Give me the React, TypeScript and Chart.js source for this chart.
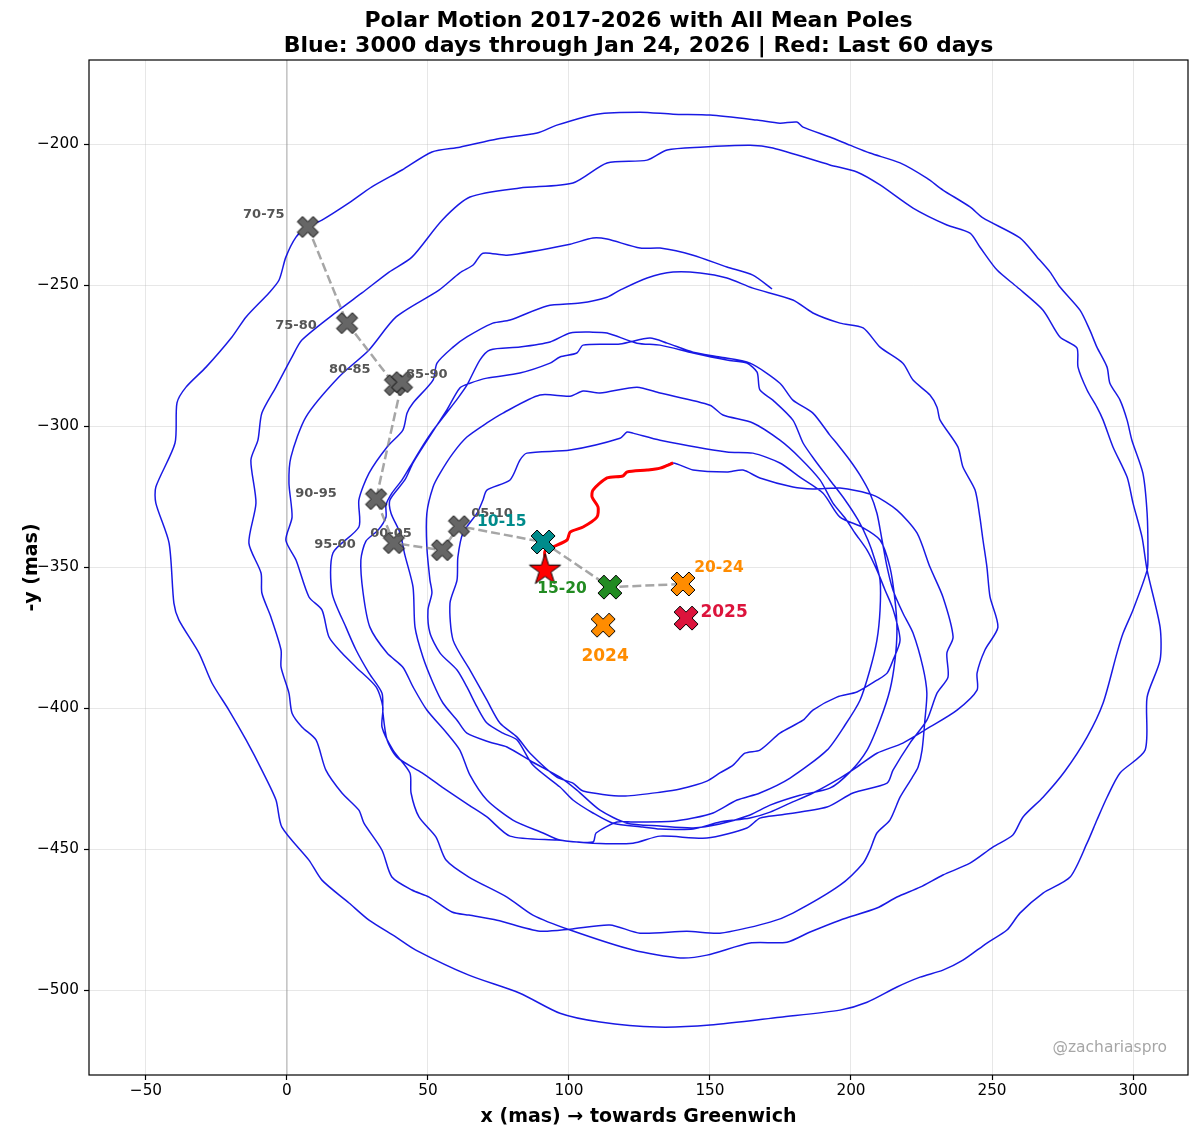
import React, { useEffect, useRef } from 'react';
import { Chart, registerables } from 'chart.js';

Chart.register(...registerables);

// ---------- data (mas) ----------
const blueX = [
172.0,165.2,156.0,144.0,132.3,125.2,113.5,108.5,100.4,78.0,
69.5,66.0,61.3,53.9,38.7,29.1,18.4,6.7,1.4,0.7,
1.8,-0.4,3.2,7.8,12.4,14.9,19.5,24.5,31.6,34.0,
33.7,37.6,43.6,44.0,46.8,52.8,56.4,64.5,78.0,87.2,
100.4,122.7,139.4,148.9,164.2,177.3,185.5,196.1,209.2,216.3,
224.5,232.6,242.2,250.3,257.4,261.0,268.1,275.9,283.7,289.4,
294.3,296.5,300.0,305.0,305.3,305.0,303.5,299.6,297.9,295.4,
291.8,290.8,287.2,284.7,281.2,274.1,270.6,266.0,259.9,246.8,
242.2,232.6,226.9,217.4,206.7,199.6,192.5,183.0,180.8,174.8,
166.7,150.0,136.9,125.2,109.9,95.7,88.7,74.5,61.3,51.4,
40.8,30.1,22.0,12.4,7.1,3.2,-0.4,-2.8,-6.4,-14.5,
-19.5,-28.7,-35.8,-39.0,-39.7,-46.5,-46.5,-41.8,-40.1,-38.3,
-31.2,-26.6,-20.6,-14.5,-8.9,-3.9,-1.8,7.8,12.4,22.0,
29.1,38.7,45.7,64.5,82.6,96.8,111.0,131.2,150.0,174.8,
196.1,205.7,216.3,224.5,232.6,239.7,248.2,255.3,259.9,268.1,
277.7,283.7,287.2,290.8,295.4,304.3,305.0,309.6,309.6,305.0,
303.2,300.0,297.9,292.9,289.4,287.2,283.7,280.5,280.1,274.1,
268.1,258.9,251.8,245.7,242.2,234.0,222.0,210.3,202.1,192.5,
172.3,164.2,146.5,134.8,127.7,113.5,101.4,82.6,64.9,55.0,
44.3,36.2,26.6,18.4,5.3,1.8,-3.9,-8.9,-10.3,-12.8,
-11.0,-13.5,-9.2,-8.9,-5.7,-2.1,-2.1,0.7,1.8,5.3,
10.3,13.8,19.5,25.5,27.3,33.7,37.2,44.3,50.4,58.5,
64.5,74.5,89.7,100.4,114.5,125.2,141.8,153.5,171.3,179.4,
196.1,204.3,206.7,209.2,213.8,217.4,221.6,223.8,225.2,226.2,
226.9,225.5,222.0,218.4,214.9,212.8,211.0,209.2,206.7,203.2,
199.6,195.4,192.5,186.5,179.4,174.8,164.2,153.5,144.0,134.8,
128.7,118.1,105.0,102.8,96.8,93.3,82.6,70.9,64.9,61.3,
56.7,52.5,48.2,44.7,41.8,36.5,36.9,40.1,41.8,44.7,
45.4,48.2,51.8,55.3,60.3,63.8,72.0,78.0,87.2,96.8,
102.8,111.0,120.6,132.3,144.0,153.5,164.2,171.3,181.9,192.5,
199.6,205.7,210.3,213.8,215.6,216.3,215.6,213.8,210.3,203.9,
196.1,190.1,181.9,174.8,165.2,156.0,132.3,122.7,120.6,118.1,
100.4,85.1,82.6,79.1,70.9,69.5,67.4,62.4,60.6,60.3,
57.8,58.9,64.9,70.9,75.5,81.6,86.2,95.7,101.4,105.0,
119.1,132.3,139.4,148.9,153.5,158.2,162.4,167.7,174.8,183.0,
186.5,195.0,202.1,209.2,212.8,214.9,217.4,214.9,212.1,209.2,
205.7,201.4,197.9,193.6,189.0,181.9,174.8,165.2,154.6,150.0,
132.3,124.1,111.0,105.0,100.4,89.7,76.6,70.9,63.8,58.9,
54.3,51.8,49.6,49.6,50.7,51.4,50.0,50.7,54.3,60.3,
63.8,67.4,70.9,76.6,81.6,87.2,96.8,101.4,108.5,115.6,
126.2,132.3,144.0,153.5,164.2,171.3,178.4,186.5,196.1,202.1,
209.2,218.4,228.0,237.6,244.7,244.7,247.5,252.1,249.3,248.2,
246.8,245.7,244.0,239.7,237.9,231.6,230.5,228.0,222.0,218.4,
210.3,204.3,196.1,186.5,179.4,165.2,156.0,146.5,136.9,127.7,
118.1,113.5,103.9,92.2,79.1,73.0,63.8,58.9,53.2,51.8,
44.7,42.6,41.1,35.5,29.1,25.5,25.5,16.3,16.0,20.9,
24.5,29.1,33.7,34.0,35.5,39.0,47.9,55.0,64.5,70.9,
79.1,95.7,108.5,109.6,117.0,122.7,136.9,144.0,151.1,159.6,
167.7,178.4,191.5,197.9,203.2,206.7,209.2,210.3,210.3,208.5,
206.0,202.5,197.9,192.5,187.2,183.0,179.4,172.3,167.7,166.7,
163.1,156.0,144.0,132.3,124.1,113.5,108.5,100.4,93.3,82.6,
72.0,68.4,63.8,60.6,56.0,51.4,47.2,43.6,40.8,37.2,
35.1,35.1,32.3,28.0,26.2,27.0,29.4,35.5,41.1,44.7,
49.6,56.7,61.3,64.9,70.9,80.1,90.8,96.8,108.5,122.7,
132.3,148.9,163.1,167.7,174.8,191.5,200.7,212.8,214.9,220.9,
226.9,230.5,234.4,234.0,236.2,232.6,228.0,223.4,216.3,207.8,
196.1,186.5,179.4,167.7,161.7,156.0,144.0,136.9
];
const blueY = [
-251.4,-246.5,-243.6,-239.4,-236.9,-236.9,-233.7,-233.3,-235.5,-239.4,
-238.7,-242.9,-245.7,-251.8,-261.3,-273.0,-282.6,-296.8,-311.0,-320.2,
-332.3,-340.4,-347.5,-360.6,-365.2,-374.8,-380.5,-385.5,-392.5,-399.6,
-406.7,-414.9,-423.0,-430.1,-438.6,-445.7,-453.9,-459.9,-467.0,-473.4,
-478.7,-485.8,-488.6,-487.6,-483.3,-483.0,-479.4,-475.2,-470.9,-467.0,
-463.5,-459.2,-455.0,-449.3,-445.0,-438.6,-431.6,-422.3,-410.3,-398.2,
-380.5,-373.4,-365.2,-351.1,-345.0,-330.9,-316.7,-305.0,-297.9,-290.8,
-284.8,-279.1,-272.0,-266.0,-258.9,-250.7,-245.4,-240.1,-233.3,-226.2,
-222.3,-216.3,-212.1,-206.7,-203.2,-200.4,-197.5,-194.0,-192.2,-192.6,
-191.5,-189.7,-189.4,-188.7,-189.4,-193.3,-196.1,-198.2,-201.1,-202.8,
-209.2,-215.2,-220.9,-227.0,-229.4,-233.0,-240.1,-248.2,-252.8,-261.3,
-268.4,-279.1,-286.2,-291.8,-306.0,-321.6,-327.3,-341.5,-362.8,-368.8,
-380.5,-391.1,-400.7,-411.3,-422.0,-432.6,-442.2,-453.9,-461.0,-469.1,
-475.2,-481.2,-485.8,-494.7,-501.1,-508.2,-511.3,-513.1,-512.4,-509.6,
-507.1,-504.3,-498.9,-495.4,-492.9,-489.4,-483.3,-478.7,-472.7,-465.6,
-459.9,-447.9,-439.7,-431.6,-423.0,-414.9,-396.1,-383.0,-371.3,-351.1,
-339.4,-327.3,-318.1,-307.4,-297.9,-293.3,-287.2,-279.1,-272.3,-268.4,
-258.9,-250.7,-244.7,-236.5,-231.6,-228.7,-222.7,-214.5,-209.9,-207.4,
-201.4,-200.4,-201.1,-202.1,-205.7,-206.7,-213.8,-215.6,-218.8,-227.0,
-240.1,-245.4,-252.8,-258.9,-269.5,-275.5,-286.2,-295.4,-305.0,-312.1,
-327.3,-341.5,-352.1,-359.2,-367.7,-379.4,-385.5,-394.7,-401.8,-406.7,
-411.3,-422.0,-430.1,-436.2,-440.8,-450.4,-459.9,-464.5,-467.0,-472.3,
-473.4,-475.2,-479.1,-478.4,-476.9,-479.8,-479.1,-479.8,-475.9,-472.7,
-462.8,-455.0,-450.4,-444.3,-439.7,-431.6,-424.8,-420.9,-414.9,-404.3,
-394.7,-385.5,-373.4,-366.3,-358.2,-350.0,-340.4,-330.9,-323.8,-317.4,
-312.1,-306.7,-303.2,-295.4,-290.8,-284.8,-277.7,-275.5,-273.8,-270.6,
-268.8,-270.9,-271.3,-274.1,-275.5,-277.7,-281.2,-283.0,-284.8,-286.5,
-294.3,-300.7,-307.4,-313.1,-319.1,-326.2,-330.9,-337.9,-345.7,-357.1,
-371.3,-381.9,-391.1,-398.2,-404.3,-408.9,-412.1,-413.8,-419.2,-424.5,
-429.1,-436.2,-440.8,-441.8,-442.5,-441.1,-437.9,-434.4,-430.9,-428.4,
-422.7,-414.9,-404.3,-393.6,-383.0,-372.3,-361.7,-350.0,-340.4,-335.8,
-332.3,-323.8,-318.1,-313.1,-309.6,-309.2,-305.0,-302.5,-302.1,-304.3,
-308.5,-309.6,-312.1,-319.1,-322.7,-326.2,-330.9,-337.9,-346.5,-354.6,
-362.8,-375.9,-386.5,-397.2,-405.3,-410.3,-416.0,-424.5,-426.6,-429.4,
-431.2,-429.8,-428.7,-425.9,-423.0,-420.2,-416.0,-414.9,-408.9,-404.3,
-400.7,-396.1,-394.3,-390.1,-387.6,-383.0,-375.9,-364.9,-358.2,-351.1,
-344.0,-337.9,-332.6,-327.3,-319.1,-311.3,-305.0,-298.9,-296.1,-292.6,
-288.3,-286.2,-288.3,-287.6,-289.4,-289.0,-295.4,-298.9,-303.9,-309.6,
-316.7,-321.6,-330.9,-342.9,-354.6,-359.2,-365.2,-373.4,-380.5,-386.5,
-392.5,-399.6,-405.3,-408.9,-411.3,-420.2,-428.0,-432.6,-437.2,-440.8,
-442.2,-442.9,-442.9,-440.4,-439.0,-436.9,-433.7,-430.1,-424.8,-420.9,
-416.0,-412.4,-406.7,-400.7,-393.6,-387.6,-379.4,-371.3,-360.6,-350.0,
-340.4,-332.3,-322.7,-314.5,-307.4,-297.9,-293.3,-289.0,-283.7,-277.7,
-272.0,-265.2,-263.5,-259.9,-255.3,-251.1,-247.5,-245.7,-245.4,-247.5,
-251.8,-254.3,-256.4,-257.4,-262.4,-263.5,-268.4,-272.0,-277.7,-283.7,
-291.8,-295.4,-301.4,-307.4,-316.7,-326.2,-335.8,-345.0,-359.2,-371.3,
-379.4,-387.6,-394.7,-401.4,-411.3,-417.4,-423.0,-428.0,-434.4,-438.6,
-445.4,-446.8,-447.5,-444.3,-440.4,-440.4,-440.1,-439.0,-437.2,-432.6,
-430.1,-424.8,-414.9,-406.0,-397.2,-386.5,-375.9,-365.2,-354.6,-347.5,
-340.4,-333.3,-326.2,-319.1,-312.1,-306.0,-297.9,-290.8,-287.2,-280.9,
-277.7,-276.6,-274.1,-271.3,-270.6,-267.0,-266.7,-267.0,-270.2,-272.0,
-273.0,-276.6,-285.5,-290.1,-296.1,-302.1,-308.5,-314.5,-319.1,-323.8,
-328.0,-332.3,-336.9,-340.8,-347.5,-359.2,-371.3,-380.5,-385.5,-392.5,
-400.7,-408.9,-414.9,-423.8,-432.6,-439.7,-444.3,-446.8,-447.9,-447.9,
-445.4,-446.1,-442.5,-439.0,-437.9,-435.1,-430.1,-426.6,-422.0,-412.4,
-404.3,-394.7,-389.0,-380.5,-374.8,-360.6,-350.0,-337.9,-329.8,-324.5,
-322.0,-322.3,-321.6,-318.4,-315.6,-316.3,-315.6,-313.1
];

// last 60 days
const redX = [136.9, 132.3, 127.7, 120.6, 119.1, 113.5, 108.5, 108.2, 110.3, 109.9, 105.0, 100.4, 99.3, 94.3, 91.5, 91.5];
const redY = [-313.1, -314.9, -315.6, -316.3, -317.7, -318.4, -322.7, -325.2, -328.7, -332.3, -335.8, -337.6, -340.4, -342.9, -344.3, -347.0];

// mean poles (connected by the dashed line)
const poleNames = ['70-75', '75-80', '80-85', '85-90', '90-95', '95-00', '00-05', '05-10', '10-15', '15-20', '20-24'];
const poleX = [7.4, 21.3, 38.3, 40.8, 31.6, 37.9, 55.0, 61.0, 90.8, 114.5, 140.4];
const poleY = [-229.4, -263.5, -285.5, -284.4, -325.9, -341.5, -344.0, -335.5, -341.1, -357.1, -356.0];
const poleColors = ['#666666', '#666666', '#666666', '#666666', '#666666', '#666666', '#666666', '#666666', '#008b8b', '#228b22', '#ff8c00'];

// yearly means
const yearNames = ['2024', '2025'];
const yearX = [112.1, 141.5];
const yearY = [-370.6, -368.1];
const yearColors = ['#ff8c00', '#dc143c'];

// current pole
const starX = [91.5];
const starY = [-351.1];

// text labels
const labelTexts = ['70-75', '75-80', '80-85', '85-90', '90-95', '95-00', '00-05', '05-10', '10-15', '15-20', '20-24', '2025', '2024'];
const labelX = [-8.2, 3.2, 22.3, 49.6, 10.3, 17.0, 36.9, 72.7, 76.2, 97.5, 153.2, 155.0, 112.8];
const labelY = [-225.2, -264.5, -280.1, -281.9, -324.1, -342.2, -338.3, -330.9, -334.0, -357.8, -350.4, -366.3, -381.9];
const labelColors = ['#555555', '#555555', '#555555', '#555555', '#555555', '#555555', '#555555', '#555555', '#008b8b', '#228b22', '#ff8c00', '#dc143c', '#ff8c00'];
const labelSizes = [13, 13, 13, 13, 13, 13, 13, 13, 15.5, 15.5, 15.5, 17, 17];

const xTicks = [-50, 0, 50, 100, 150, 200, 250, 300];
const yTicks = [-500, -450, -400, -350, -300, -250, -200];

const FONT = "'DejaVu Sans', 'Liberation Sans', sans-serif";

function makeX(size: number, fill: string): HTMLCanvasElement {
  const pad = 2;
  const c = document.createElement('canvas');
  c.width = c.height = Math.ceil(size + pad * 2);
  const ctx = c.getContext('2d')!;
  ctx.translate(c.width / 2, c.height / 2);
  const s = size / 4;
  const v = [[-1, -2], [0, -1], [1, -2], [2, -1], [1, 0], [2, 1], [1, 2], [0, 1], [-1, 2], [-2, 1], [-1, 0], [-2, -1]];
  ctx.beginPath();
  v.forEach(([a, b], i) => (i === 0 ? ctx.moveTo(a * s, b * s) : ctx.lineTo(a * s, b * s)));
  ctx.closePath();
  ctx.fillStyle = fill;
  ctx.fill();
  ctx.lineWidth = 1;
  ctx.strokeStyle = '#000';
  ctx.stroke();
  return c;
}

function makeStar(R: number, fill: string): HTMLCanvasElement {
  const pad = 2;
  const c = document.createElement('canvas');
  c.width = c.height = Math.ceil(2 * R + pad * 2);
  const ctx = c.getContext('2d')!;
  ctx.translate(c.width / 2, c.height / 2);
  const r = R * 0.381966;
  ctx.beginPath();
  for (let i = 0; i < 10; i++) {
    const ang = -Math.PI / 2 + (i * Math.PI) / 5;
    const rad = i % 2 === 0 ? R : r;
    const px = rad * Math.cos(ang);
    const py = rad * Math.sin(ang);
    if (i === 0) ctx.moveTo(px, py);
    else ctx.lineTo(px, py);
  }
  ctx.closePath();
  ctx.fillStyle = fill;
  ctx.fill();
  ctx.lineWidth = 1;
  ctx.strokeStyle = '#000';
  ctx.stroke();
  return c;
}

const fmt = (v: number | string) => {
  const n = Number(v);
  return n < 0 ? '\u2212' + Math.abs(n) : String(n);
};

export default function App() {
  const ref = useRef<HTMLCanvasElement>(null);

  useEffect(() => {
    document.body.style.margin = '0';
    const canvas = ref.current;
    if (!canvas) return;

    const n = Math.min(blueX.length, blueY.length);
    const bluePts: { x: number; y: number }[] = [];
    for (let i = 0; i < n; i++) bluePts.push({ x: blueX[i], y: blueY[i] });
    for (let i = 1; i < redX.length; i++) bluePts.push({ x: redX[i], y: redY[i] });
    const redPts = redX.map((x, i) => ({ x, y: redY[i] }));
    const polePts = poleX.map((x, i) => ({ x, y: poleY[i] }));
    const yearPts = yearX.map((x, i) => ({ x, y: yearY[i] }));
    const starPts = starX.map((x, i) => ({ x, y: starY[i] }));

    const poleImgs = poleColors.map((c, i) => makeX(i < 8 ? 21 : 24, c));
    const yearImgs = yearColors.map((c) => makeX(24, c));
    const starImg = makeStar(16.5, '#ff0000');

    const decor = {
      id: 'decor',
      beforeDatasetsDraw(chart: any) {
        const { ctx, chartArea, scales } = chart;
        const x0 = scales.x.getPixelForValue(0);
        ctx.save();
        ctx.strokeStyle = 'rgba(128,128,128,0.4)';
        ctx.lineWidth = 1.5;
        ctx.beginPath();
        ctx.moveTo(x0, chartArea.top);
        ctx.lineTo(x0, chartArea.bottom);
        ctx.stroke();
        ctx.restore();
      },
      afterDatasetsDraw(chart: any) {
        const { ctx, chartArea, scales } = chart;
        ctx.save();
        // labels
        ctx.textAlign = 'center';
        ctx.textBaseline = 'middle';
        labelTexts.forEach((t, i) => {
          ctx.font = `bold ${labelSizes[i]}px ${FONT}`;
          ctx.fillStyle = labelColors[i];
          ctx.fillText(t, scales.x.getPixelForValue(labelX[i]), scales.y.getPixelForValue(labelY[i]));
        });
        // frame
        ctx.strokeStyle = '#000';
        ctx.lineWidth = 1.2;
        ctx.strokeRect(chartArea.left, chartArea.top, chartArea.right - chartArea.left, chartArea.bottom - chartArea.top);
        // title
        const cx = (chartArea.left + chartArea.right) / 2;
        ctx.fillStyle = '#000';
        ctx.textBaseline = 'alphabetic';
        ctx.font = `bold 22px ${FONT}`;
        ctx.fillText('Polar Motion 2017-2026 with All Mean Poles', cx, 27);
        ctx.fillText('Blue: 3000 days through Jan 24, 2026 | Red: Last 60 days', cx, 52);
        // axis titles
        ctx.font = `bold 19px ${FONT}`;
        ctx.fillText('x (mas) \u2192 towards Greenwich', cx, 1122);
        ctx.save();
        ctx.translate(37, (chartArea.top + chartArea.bottom) / 2);
        ctx.rotate(-Math.PI / 2);
        ctx.fillText('-y (mas)', 0, 0);
        ctx.restore();
        // watermark
        ctx.font = `15.5px ${FONT}`;
        ctx.fillStyle = 'rgba(128,128,128,0.7)';
        ctx.textAlign = 'right';
        ctx.fillText('@zachariaspro', 1167, 1052);
        ctx.restore();
      },
    };

    const chart = new Chart(canvas, {
      type: 'scatter',
      data: {
        datasets: [
          {
            label: 'blue',
            data: bluePts,
            showLine: true,
            borderColor: 'rgba(0,0,225,0.9)',
            borderWidth: 1.5,
            pointRadius: 0,
            tension: 0.25,
            order: 6,
          },
          {
            label: 'red',
            data: redPts,
            showLine: true,
            borderColor: '#ff0000',
            borderWidth: 3,
            pointRadius: 0,
            tension: 0.25,
            order: 5,
          },
          {
            label: 'dash',
            data: polePts,
            showLine: true,
            borderColor: 'rgba(128,128,128,0.7)',
            borderWidth: 2.5,
            borderDash: [9, 4],
            pointRadius: 0,
            tension: 0,
            order: 4,
          },
          {
            label: 'poles',
            data: polePts,
            showLine: false,
            pointStyle: poleImgs as any,
            pointRadius: 10,
            order: 3,
          },
          {
            label: 'years',
            data: yearPts,
            showLine: false,
            pointStyle: yearImgs as any,
            pointRadius: 10,
            order: 2,
          },
          {
            label: 'star',
            data: starPts,
            showLine: false,
            pointStyle: starImg as any,
            pointRadius: 10,
            order: 1,
          },
        ] as any,
      },
      options: {
        responsive: false,
        animation: false,
        events: [],
        layout: { padding: { left: 0, right: 12, top: 60, bottom: 0 } },
        plugins: {
          legend: { display: false },
          tooltip: { enabled: false },
          title: { display: false },
        },
        scales: {
          x: {
            type: 'linear',
            min: -70.2,
            max: 319.5,
            afterBuildTicks: (ax: any) => {
              ax.ticks = xTicks.map((v) => ({ value: v }));
            },
            afterFit: (ax: any) => {
              ax.height = 62;
            },
            ticks: {
              callback: fmt,
              font: { family: FONT, size: 15.3 },
              color: '#000',
              padding: 2,
              maxRotation: 0,
              autoSkip: false,
              includeBounds: false,
            },
            grid: {
              color: 'rgba(176,176,176,0.3)',
              lineWidth: 1,
              tickLength: 5,
              tickColor: '#000',
              tickWidth: 1.2,
            },
            border: { display: false },
          },
          y: {
            type: 'linear',
            min: -530.1,
            max: -170.2,
            afterBuildTicks: (ax: any) => {
              ax.ticks = yTicks.map((v) => ({ value: v }));
            },
            afterFit: (ax: any) => {
              ax.width = 89;
            },
            ticks: {
              callback: fmt,
              font: { family: FONT, size: 15.3 },
              color: '#000',
              padding: 5,
              autoSkip: false,
              includeBounds: false,
            },
            grid: {
              color: 'rgba(176,176,176,0.3)',
              lineWidth: 1,
              tickLength: 5,
              tickColor: '#000',
              tickWidth: 1.2,
            },
            border: { display: false },
          },
        },
      } as any,
      plugins: [decor],
    });

    return () => chart.destroy();
  }, []);

  return (
    <canvas
      ref={ref}
      width={1200}
      height={1137}
      style={{ display: 'block', width: '1200px', height: '1137px' }}
    />
  );
}
